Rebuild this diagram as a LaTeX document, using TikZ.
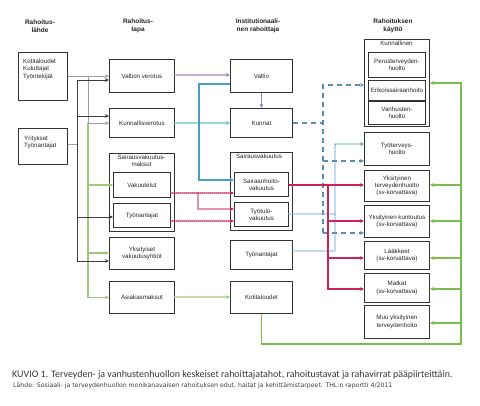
\documentclass[tikz,border=0pt]{standalone}
\usepackage{fontspec}
\setmainfont{Liberation Sans}
\newfontfamily\capfont{Carlito}
\newfontfamily\srcfont{DejaVu Sans}
\usetikzlibrary{arrows.meta}
\definecolor{boxc}{HTML}{333333}
\definecolor{grayc}{HTML}{A0A0A0}
\definecolor{darkc}{HTML}{3A3A55}
\definecolor{lgreen}{HTML}{9CC97A}
\definecolor{rgreen}{HTML}{7DBB4E}
\definecolor{purc}{HTML}{9A80BE}
\definecolor{tealc}{HTML}{5EC0BC}
\definecolor{bluec}{HTML}{4A9CC4}
\definecolor{redc}{HTML}{CC2258}
\definecolor{bdashc}{HTML}{5B8DB3}
\definecolor{bdotc}{HTML}{5E9BCF}
\begin{document}
\begin{tikzpicture}[x=1pt,y=-1pt,
  >={Stealth[length=4.2pt,width=3.8pt]},
  box/.style={draw=boxc, line width=0.9pt, fill=white, align=center, inner sep=1pt,
    font=\fontsize{6.2}{7.2}\selectfont, anchor=north west, text=black!85},
  txt/.style={align=left, inner sep=0pt, font=\fontsize{6.2}{7.2}\selectfont, text=black!85},
  ttl/.style={align=center, inner sep=0pt, font=\fontsize{6.2}{7.2}\selectfont, text=black!85},
  hdr/.style={font=\bfseries\fontsize{6.5}{8}\selectfont, align=center, inner sep=0pt, text=black!85},
  dotline/.style={line width=1.9pt, line cap=round, dash pattern=on 0pt off 2pt},
  gr/.style={draw=grayc, line width=0.9pt},
  dk/.style={draw=darkc, line width=1pt},
  gl/.style={draw=lgreen, line width=1.1pt},
  pdot/.style={dotline, draw=purc},
  tdot/.style={dotline, draw=tealc},
  pur/.style={draw=purc, line width=1.5pt},
  bsol/.style={draw=bluec, line width=1.8pt},
  rdot/.style={dotline, draw=redc},
  gdot/.style={dotline, draw=lgreen},
  bdash/.style={draw=bdashc, line width=1.8pt, dash pattern=on 5pt off 4pt},
  bdot/.style={dotline, draw=bdotc, line width=1.6pt},
  rsol/.style={draw=redc, line width=1.8pt},
  grn/.style={draw=rgreen, line width=1.6pt}
]
\useasboundingbox[fill=white] (0,0) rectangle (480,405);

% headers
\node[hdr] (h1) at (40,26) {Rahoitus-\\lähde};
\node[hdr] (h2) at (138,26) {Rahoitus-\\tapa};
\node[hdr] (h3) at (258,26) {Institutionaali-\\nen rahoittaja};
\node[hdr] (h4) at (393,26) {Rahoituksen\\käyttö};

% column 1
\node[box, minimum width=49pt, minimum height=48pt] (src1) at (18,52) {};
\node[txt, anchor=north west] (src1t) at (23,59) {Kotitaloudet\\Kuluttajat\\Työntekijät};
\node[box, minimum width=49pt, minimum height=36pt] (src2) at (18,128) {};
\node[txt, anchor=north west] (src2t) at (24,136) {Yritykset\\Työnantajat};

% column 2
\node[box, minimum width=65pt, minimum height=33pt] (vv) at (109,59) {Valtion verotus};
\node[box, minimum width=65pt, minimum height=29pt] (kv) at (109,108) {Kunnallisverotus};
\node[box, minimum width=65pt, minimum height=78pt] (svm) at (109,153) {};
\node[ttl, anchor=north] (svmt) at (141.5,155) {Sairausvakuutus-\\maksut};
\node[box, minimum width=57pt, minimum height=25pt] (vak) at (113,172) {Vakuutetut};
\node[box, minimum width=57pt, minimum height=24pt] (tyon1) at (113,203) {Työnantajat};
\node[box, minimum width=65pt, minimum height=32pt] (yv) at (109,237) {Yksityiset\\vakuutusyhtiöt};
\node[box, minimum width=65pt, minimum height=32pt] (am) at (109,281) {Asiakasmaksut};

% column 3
\node[box, minimum width=62pt, minimum height=33pt] (valtio) at (230,59) {Valtio};
\node[box, minimum width=62pt, minimum height=29pt] (kunnat) at (230,108) {Kunnat};
\node[box, minimum width=62pt, minimum height=78pt] (sv) at (230,152) {};
\node[ttl, anchor=north] (svt) at (259,154) {Sairausvakuutus};
\node[box, minimum width=54pt, minimum height=24pt] (shv) at (234,172) {Sairaanhoito-\\vakuutus};
\node[box, minimum width=54pt, minimum height=24pt] (ttv) at (234,202) {Työtulo-\\vakuutus};
\node[box, minimum width=62pt, minimum height=29pt] (tyon2) at (230,240) {Työnantajat};
\node[box, minimum width=62pt, minimum height=32pt] (koti) at (230,281) {Kotitaloudet};

% column 4
\node[box, minimum width=65pt, minimum height=87pt] (kunn) at (364,39) {};
\node[ttl, anchor=north] (kunnt) at (396.5,41) {Kunnallinen};
\node[box, minimum width=57pt, minimum height=25pt] (perus) at (368,52) {Perusterveyden-\\huolto};
\node[box, minimum width=57pt, minimum height=20pt] (erik) at (368,80) {Erikoissairaanhoito};
\node[box, minimum width=57pt, minimum height=23pt] (vanh) at (368,101) {Vanhusten-\\huolto};
\node[box, minimum width=65pt, minimum height=33pt] (tth) at (364,132) {Työterveys-\\huolto};
\node[box, minimum width=65pt, minimum height=31pt] (ykt) at (364,170) {Yksityinen\\terveydenhuolto\\(sv-korvattava)};
\node[box, minimum width=65pt, minimum height=32pt] (ykk) at (364,205) {Yksityinen kuntoutus\\(sv-korvattava)};
\node[box, minimum width=65pt, minimum height=28pt] (laak) at (364,241) {Lääkkeet\\(sv-korvattava)};
\node[box, minimum width=65pt, minimum height=29pt] (matk) at (364,273) {Matkat\\(sv-korvattava)};
\node[box, minimum width=65pt, minimum height=33pt] (muu) at (364,305) {Muu yksityinen\\terveydenhoito};

% junction coordinates
\coordinate (gtop) at (88,76);
\coordinate (gmid) at (88,123);
\coordinate (dtop) at (77,80);
\coordinate (dbot) at (77,261);
\coordinate (bturn) at (199,84);
\coordinate (rsplit) at (198,193);
\coordinate (bdv) at (323,123);
\coordinate (bdbot) at (323,233);
\coordinate (dotv) at (335,214);
\coordinate (rv) at (328,185);
\coordinate (gcorner) at (461,344);
\coordinate (gtopR) at (461,83);

% left connectors
\draw[gl,->] (gmid) |- (vak.west);
\draw[gl,->] (gmid) |- (yv.west |- 0,253);
\draw[gl,->] (gmid) |- (am.west);
\draw[gr,->] (src1.east |- gtop) -- (vv.west |- gtop);
\draw[gr,->] (gtop) |- (kv.west |- gmid);
\draw[gr] (src2.east |- 0,144) -- (dbot |- 0,144);
\draw[dk,->] (dbot) |- (vv.west |- dtop);
\draw[dk,->] (dbot |- 0,116) -- (kv.west |- 0,116);
\draw[dk,->] (dbot |- 0,217) -- (tyon1.west |- 0,217);
\draw[dk,->] (dbot) -- (yv.west |- dbot);

% middle connectors
\draw[pdot,->] (vv.east |- 0,75) -- (valtio.west |- 0,75);
\draw[tdot,->] (kv.east |- 0,123) -- (kunnat.west |- 0,123);
\draw[pur,->] (valtio.south) -- (kunnat.north);
\draw[bsol,->] (valtio.west |- bturn) -- (bturn) -- (bturn |- 0,180) -- (shv.west |- 0,180);
\draw[rdot,->] (vak.east |- rsplit) -- (shv.west |- rsplit);
\draw[rdot,->] (rsplit) |- (ttv.west |- 0,209);
\draw[rdot,->] (tyon1.east |- 0,221) -- (ttv.west |- 0,221);
\draw[gdot,->] (am.east |- 0,297) -- (koti.west |- 0,297);

% right connectors
\draw[bdot] (ttv.east |- dotv) -- (dotv);
\draw[bdot,->] (tyon2.east |- 0,251) -| (dotv |- 0,144) -- (tth.west |- 0,144);
\draw[bdash] (kunnat.east |- bdv) -- (bdv);
\draw[bdash,->] (bdbot) |- (kunn.west |- 0,85);
\draw[bdash,->] (bdv |- 0,161) -- (tth.west |- 0,161);
\draw[bdash,->] (bdbot) -- (ykk.west |- bdbot);
\draw[rsol,->] (shv.east |- rv) -- (ykt.west |- rv);
\draw[rsol,->] (rv) |- (ykk.west |- 0,221);
\draw[rsol,->] (rv) |- (laak.west |- 0,258);
\draw[rsol,->] (rv) |- (matk.west |- 0,289);

% green return line
\draw[grn,->] (koti.south) |- (gcorner) -- (gtopR) -- (kunn.east |- gtopR);
\draw[grn,->] (gtopR |- 0,185) -- (ykt.east |- 0,185);
\draw[grn,->] (gtopR |- 0,221) -- (ykk.east |- 0,221);
\draw[grn,->] (gtopR |- 0,258) -- (laak.east |- 0,258);
\draw[grn,->] (gtopR |- 0,289) -- (matk.east |- 0,289);
\draw[grn,->] (gtopR |- 0,323) -- (muu.east |- 0,323);

% caption
\node[anchor=west, inner sep=0pt, font=\capfont\fontsize{9.95}{12}\selectfont, text=black!78] (cap) at (12,375)
  {KUVIO 1. Terveyden- ja vanhustenhuollon keskeiset rahoittajatahot, rahoitustavat ja rahavirrat pääpiirteittäin.};
\node[anchor=west, inner sep=0pt, font=\srcfont\fontsize{6.2}{7}\selectfont, text=black!75] (srcl) at (13,386)
  {Lähde: Sosiaali- ja terveydenhuollon monikanavaisen rahoituksen edut, haitat ja kehittämistarpeet. THL:n raportti 4/2011};
\end{tikzpicture}
\end{document}
